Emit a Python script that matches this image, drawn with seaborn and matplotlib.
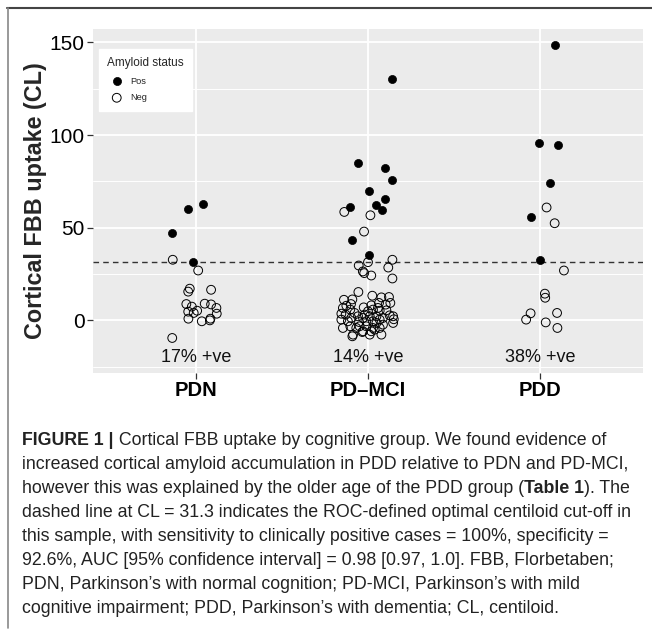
import numpy as np
import pandas as pd
import matplotlib.pyplot as plt
import seaborn as sns
from matplotlib.lines import Line2D
from matplotlib.ticker import MultipleLocator

groups = ['PDN', 'PD–MCI', 'PDD']
pct_labels = ['17% +ve', '14% +ve', '38% +ve']
cutoff = 31.3

# centiloid values, with the horizontal jitter of each point
pdn_pos_cl = [60.0, 62.7, 47.0, 31.4]
pdn_pos_jit = [-0.05, 0.04, -0.14, -0.02]
pdn_neg_cl = [32.7, 26.9, 17.1, 15.5, 16.5, 8.8, 7.4, 9.0, 8.6, 6.7,
              4.7, 4.0, 5.2, 3.6, 0.9, -0.5, 0.0, 0.9, -9.5]
pdn_neg_jit = [-0.136, 0.012, -0.037, -0.046, 0.087, -0.057, -0.025, 0.05, 0.087, 0.118,
               -0.046, -0.014, 0.006, 0.12, -0.045, 0.033, 0.08, 0.083, -0.139]

mci_pos_cl = [130.2, 84.7, 82.4, 75.8, 70.0, 65.7, 62.3, 59.4, 60.9, 43.5, 35.4]
mci_pos_jit = [0.14, -0.058, 0.097, 0.14, 0.006, 0.10, 0.047, 0.082, -0.107, -0.093, 0.004]
mci_neg_cl = [58.5, 56.7, 47.9, 31.4, 29.6, 32.7, 28.5, 26.4, 25.5, 24.2, 22.6,
              15.3, 13.3, 12.4, 12.6, 11.1, 11.3, 8.8, 6.7, 5.8, 7.0,
              8.1, 9.4, 8.5, 9.4, 5.8, 5.2, 5.4, 2.2, 3.1, 1.3,
              2.2, 3.1, 2.2, 2.2, 1.3, 2.7, 0.4, -0.5, -0.9, -0.5,
              -0.5, 0.4, -3.2, -3.2, -4.1, -4.1, -3.2, -7.7, -8.6, -5.9,
              -5.9, -7.7, -1.4, -4.1,
              7.9, 3.6, 0.6, -5.0, -6.3, 4.9, -1.4, 4.0, -2.3, 1.3, 6.7, -4.1, -7.7]
mci_neg_jit = [-0.138, 0.014, -0.023, 0.0, -0.054, 0.142, 0.118, -0.03, -0.022, 0.019, 0.142,
               -0.056, 0.025, 0.078, 0.122, -0.14, -0.091, -0.099, -0.146, -0.103, -0.025,
               0.019, 0.064, 0.103, 0.13, 0.029, 0.068, 0.107, 0.146, -0.13, -0.097,
               -0.058, -0.019, 0.01, 0.049, 0.087, 0.126, -0.155, -0.117, -0.052, -0.01,
               0.029, 0.068, -0.049, -0.01, 0.029, -0.146, -0.103, -0.087, -0.091, -0.029,
               0.019, 0.078, 0.146, 0.068,
               -0.126, -0.155, 0.15, 0.039, -0.033, 0.0, 0.049, -0.078, 0.087, -0.029, 0.058, -0.068, 0.01]

pdd_pos_cl = [148.8, 95.9, 94.6, 74.0, 55.7, 32.8]
pdd_pos_jit = [0.086, -0.004, 0.104, 0.06, -0.052, 0.002]
pdd_neg_cl = [60.9, 52.4, 26.9, 14.4, 12.2, 3.8, 4.0, 0.4, -1.1, -4.1]
pdd_neg_jit = [0.039, 0.086, 0.14, 0.029, 0.031, -0.054, 0.1, -0.08, 0.034, 0.102]

rows = []
for gi, (pc, pj, nc, nj) in enumerate([(pdn_pos_cl, pdn_pos_jit, pdn_neg_cl, pdn_neg_jit),
                                       (mci_pos_cl, mci_pos_jit, mci_neg_cl, mci_neg_jit),
                                       (pdd_pos_cl, pdd_pos_jit, pdd_neg_cl, pdd_neg_jit)]):
    for v, j in zip(pc, pj):
        rows.append({'group': groups[gi], 'xpos': gi + j, 'cl': v, 'status': 'Pos'})
    for v, j in zip(nc, nj):
        rows.append({'group': groups[gi], 'xpos': gi + j, 'cl': v, 'status': 'Neg'})
df = pd.DataFrame(rows)

sns.set_theme(style='darkgrid', rc={'axes.facecolor': '#EBEBEB', 'grid.color': 'white'})
plt.rcParams['font.family'] = ['Liberation Sans', 'DejaVu Sans']

fig = plt.figure(figsize=(6.52, 6.35), dpi=100)
ax = fig.add_axes([93/652, 1 - 373/635, 550/652, 344/635])

ax.axhline(cutoff, color='#333333', lw=1.0, ls=(0, (4, 3)), zorder=2)

sns.scatterplot(data=df[df.status == 'Neg'], x='xpos', y='cl', s=40,
                facecolors='none', edgecolor='black', linewidth=0.7,
                label='Neg', ax=ax, zorder=3)
sns.scatterplot(data=df[df.status == 'Pos'], x='xpos', y='cl', s=34,
                color='black', edgecolor='black', linewidth=0.5,
                label='Pos', ax=ax, zorder=4)

for i, lab in enumerate(pct_labels):
    ax.text(i, -20, lab, ha='center', va='center', fontsize=13, color='#111111')

ax.set_xlim(-0.6, 2.6)
ax.set_ylim(-28.4, 157.2)
ax.set_xticks(range(len(groups)))
ax.set_xticklabels(groups, fontsize=14.5, fontweight='bold', color='black')
ax.set_yticks([0, 50, 100, 150])
ax.yaxis.set_minor_locator(MultipleLocator(25))
ax.tick_params(axis='y', labelsize=15, labelcolor='black')
ax.tick_params(axis='both', which='major', length=4, width=0.9, color='#333333',
               left=True, bottom=True, pad=2)
ax.tick_params(axis='both', which='minor', length=0)
ax.grid(True, which='major', color='white', lw=1.3)
ax.grid(True, which='minor', axis='y', color='white', lw=0.7)
ax.set_xlabel('')
ax.set_ylabel('Cortical FBB uptake (CL)', fontsize=16.8, fontweight='bold', labelpad=2)
for s in ax.spines.values():
    s.set_visible(False)

handles, labels = ax.get_legend_handles_labels()
order = [labels.index('Pos'), labels.index('Neg')]
leg = ax.legend([handles[k] for k in order], ['Pos', 'Neg'], title='Amyloid status',
                loc='upper left', bbox_to_anchor=(0.011, 0.942), borderaxespad=0,
                fontsize=6.7, title_fontsize=8.5, frameon=True, fancybox=False,
                framealpha=1, facecolor='white', edgecolor='white',
                borderpad=0.9, handletextpad=0.5, labelspacing=0.8, alignment='left')

# page border lines
fig.add_artist(Line2D([7/652, 1], [1 - 8/635, 1 - 8/635], color='#444444', lw=1.5))
fig.add_artist(Line2D([7.5/652, 7.5/652], [1 - 8/635, 1 - 628/635], color='#888888', lw=1.2))

cap_lines = [
    [('FIGURE 1 |', True), (' Cortical FBB uptake by cognitive group. We found evidence of', False)],
    [('increased cortical amyloid accumulation in PDD relative to PDN and PD-MCI,', False)],
    [('however this was explained by the older age of the PDD group (', False), ('Table 1', True), ('). The', False)],
    [('dashed line at CL = 31.3 indicates the ROC-defined optimal centiloid cut-off in', False)],
    [('this sample, with sensitivity to clinically positive cases = 100%, specificity =', False)],
    [('92.6%, AUC [95% confidence interval] = 0.98 [0.97, 1.0]. FBB, Florbetaben;', False)],
    [('PDN, Parkinson’s with normal cognition; PD-MCI, Parkinson’s with mild', False)],
    [('cognitive impairment; PDD, Parkinson’s with dementia; CL, centiloid.', False)],
]
cap_fs = 12.8
for li, parts in enumerate(cap_lines):
    yb = 1 - (445 + 24 * li) / 635
    prev = None
    for txt, bold in parts:
        w = 'bold' if bold else 'normal'
        if prev is None:
            prev = fig.text(22/652, yb, txt, fontsize=cap_fs, fontweight=w,
                            va='baseline', ha='left', color='#222222')
        else:
            prev = ax.annotate(txt, xy=(1, 0), xycoords=prev, va='bottom', ha='left',
                               fontsize=cap_fs, fontweight=w, color='#222222',
                               annotation_clip=False)

fig.savefig('out.png', dpi=100)
